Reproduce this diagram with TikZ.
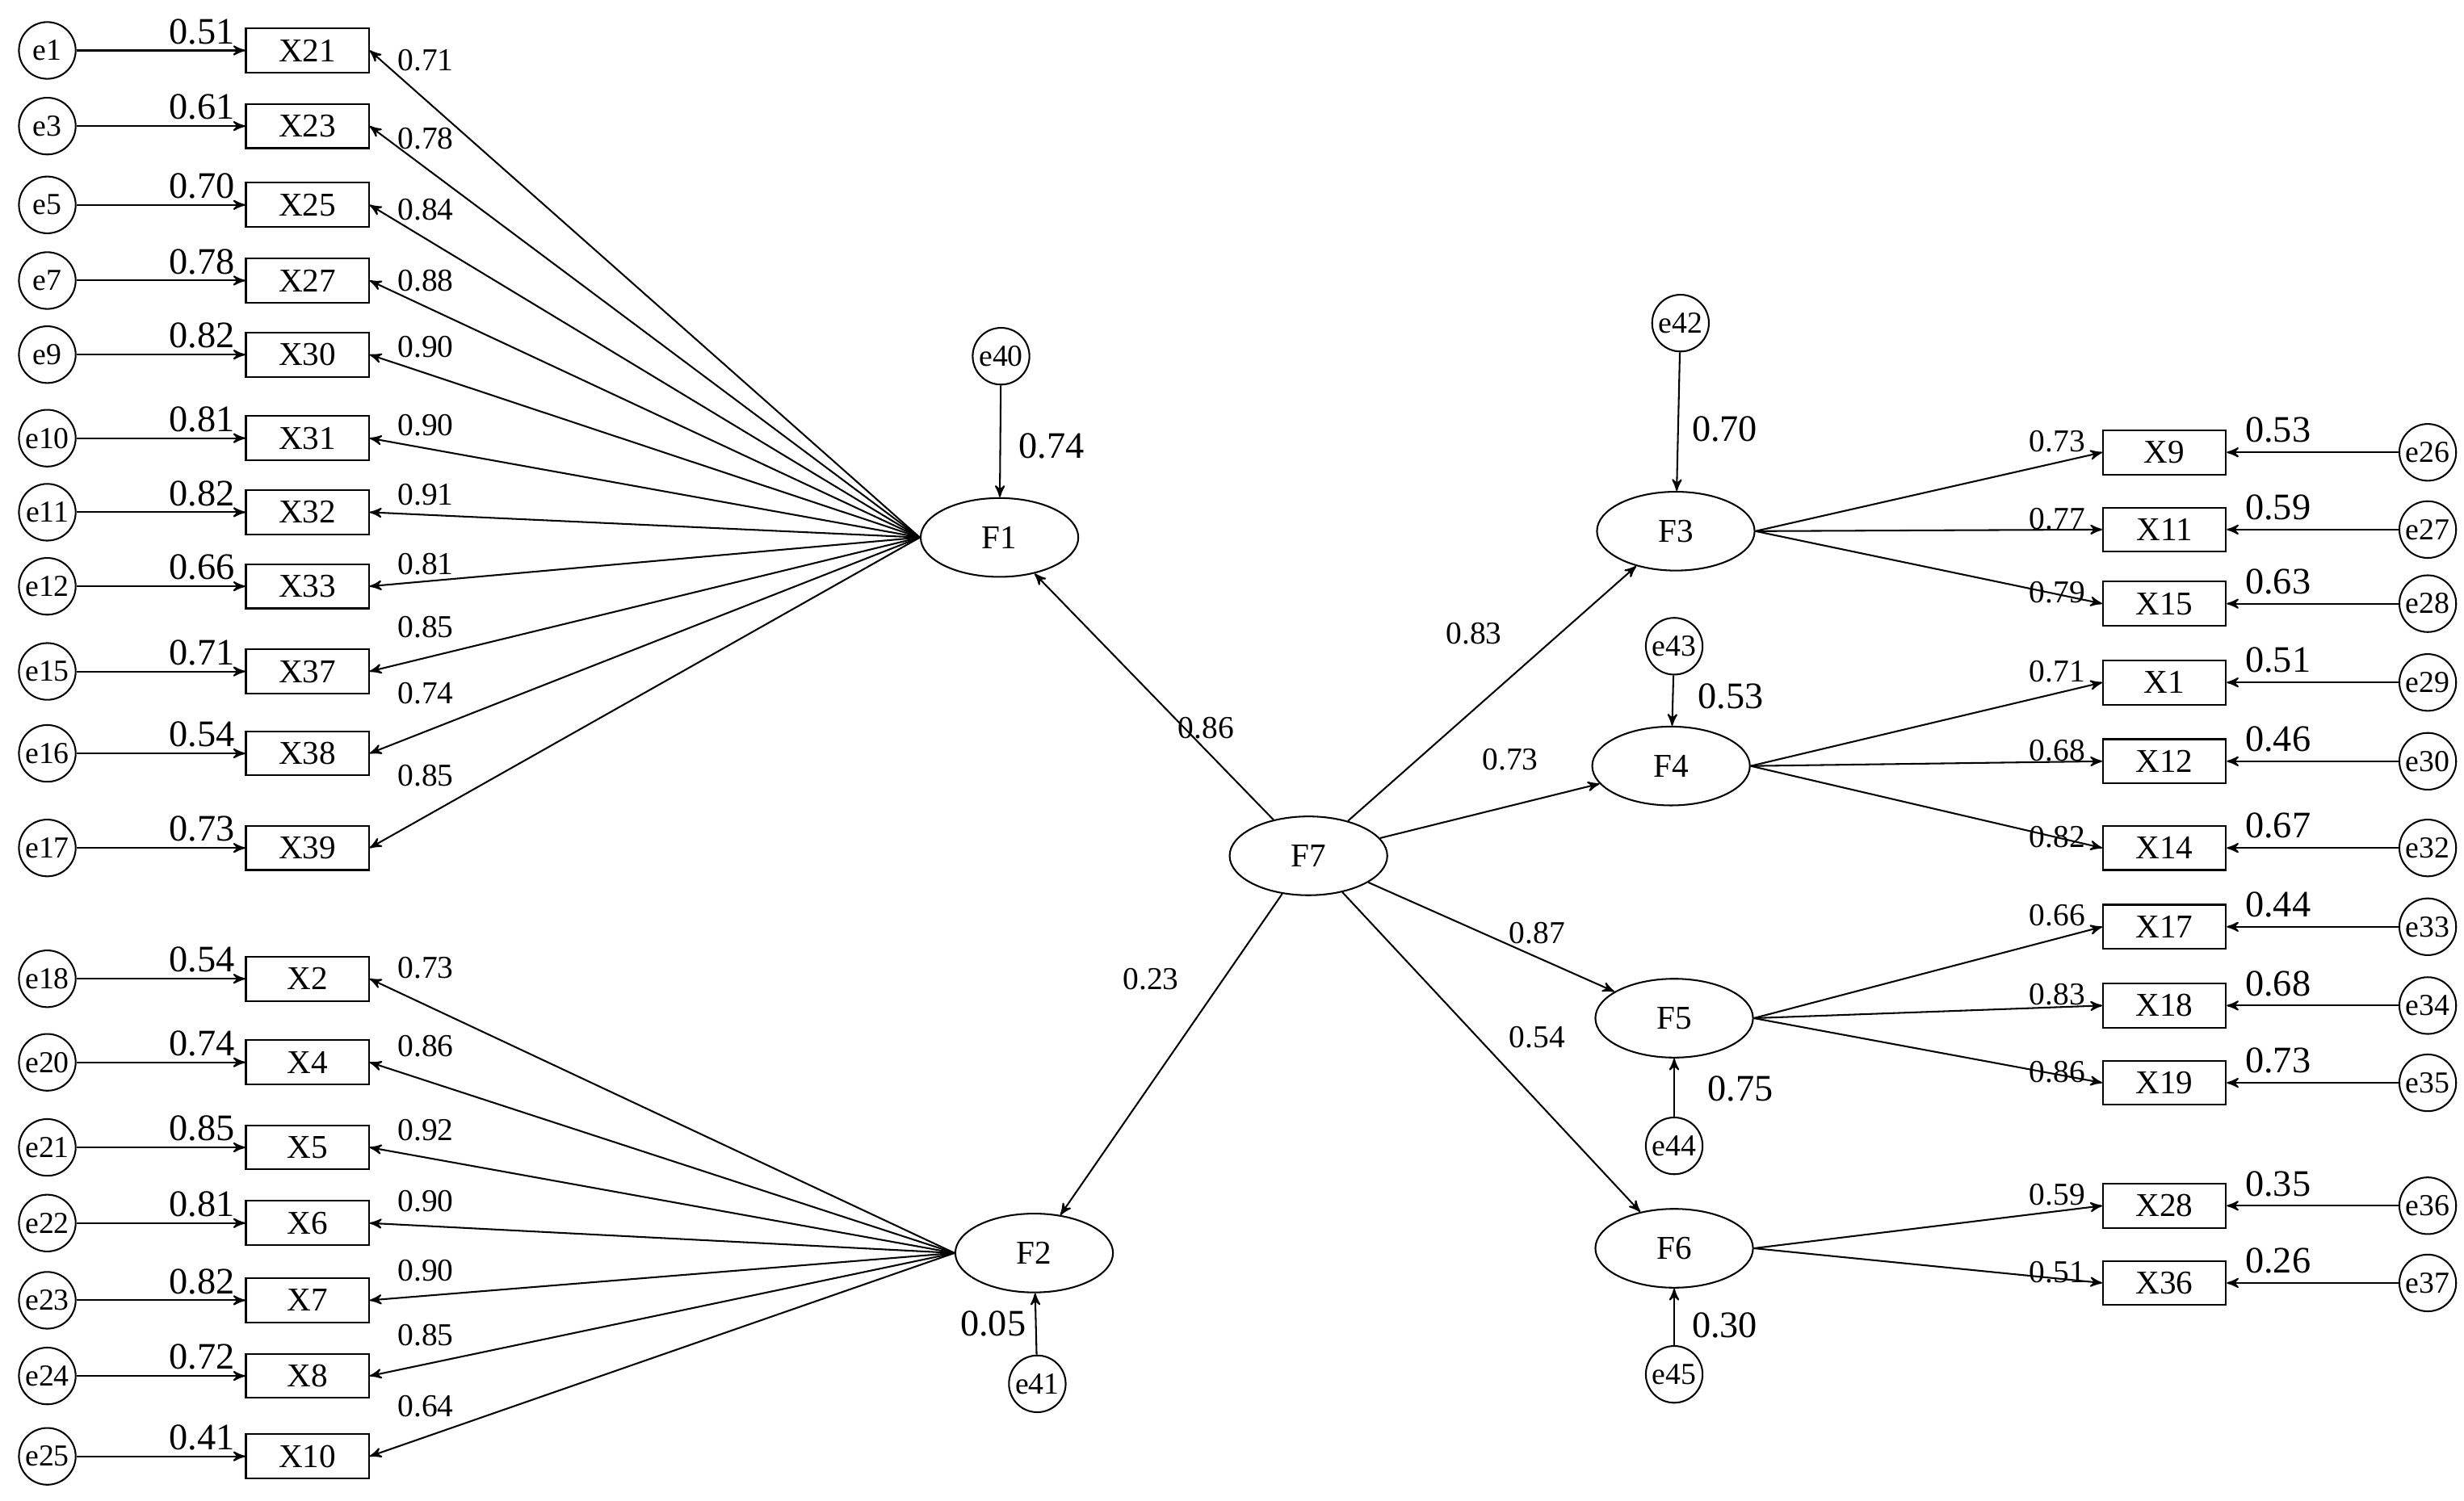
\documentclass[tikz,border=0pt]{standalone}
\usepackage{fontspec}
\setmainfont{Liberation Serif}
\usetikzlibrary{arrows,shapes.geometric}

\begin{document}
\begin{tikzpicture}[x=0.2mm,y=-0.2mm,>=stealth',semithick]
  \tikzstyle{err}=[circle,draw,minimum size=7.2mm,inner sep=0pt,font=\fontsize{11}{11}\selectfont]
  \tikzstyle{obs}=[rectangle,draw,minimum width=15.6mm,minimum height=5.6mm,inner sep=0pt,font=\fontsize{12}{12}\selectfont]
  \tikzstyle{lat}=[ellipse,draw,minimum width=20mm,minimum height=10mm,inner sep=0pt,font=\fontsize{12}{12}\selectfont]
  \tikzstyle{wt}=[font=\fontsize{13.5}{13.5}\selectfont]
  \tikzstyle{ld}=[font=\fontsize{11.5}{11.5}\selectfont]
  \useasboundingbox (0,0) rectangle (1563,952);

  % latent factors
  \node[lat] (F1) at (634,341) {F1};
  \node[lat] (F2) at (656,795) {F2};
  \node[lat] (F3) at (1063,337) {F3};
  \node[lat] (F4) at (1060,486) {F4};
  \node[lat] (F5) at (1062,646) {F5};
  \node[lat] (F6) at (1062,792) {F6};
  \node[lat] (F7) at (830,543) {F7};

  % disturbances
  \node[err] (e40) at (635,226) {e40};
  \node[err] (e41) at (658,878) {e41};
  \node[err] (e42) at (1066,205) {e42};
  \node[err] (e43) at (1062,410) {e43};
  \node[err] (e44) at (1062,727) {e44};
  \node[err] (e45) at (1062,872) {e45};
  \draw[->] (e40) -- (F1);
  \draw[->] (e41) -- (F2);
  \draw[->] (e42) -- (F3);
  \draw[->] (e43) -- (F4);
  \draw[->] (e44) -- (F5);
  \draw[->] (e45) -- (F6);
  \node[wt] at (667,283) {0.74};
  \node[wt] at (630,840) {0.05};
  \node[wt] at (1094,272) {0.70};
  \node[wt] at (1098,442) {0.53};
  \node[wt] at (1104,691) {0.75};
  \node[wt] at (1094,841) {0.30};

  % structural paths
  \draw[->] (F7) -- (F1); \node[ld] at (765,462) {0.86};
  \draw[->] (F7) -- (F2); \node[ld] at (730,621) {0.23};
  \draw[->] (F7) -- (F3); \node[ld] at (935,402) {0.83};
  \draw[->] (F7) -- (F4); \node[ld] at (958,482) {0.73};
  \draw[->] (F7) -- (F5); \node[ld] at (975,592) {0.87};
  \draw[->] (F7) -- (F6); \node[ld] at (975,658) {0.54};

  % left indicators
  \foreach \e/\x/\y/\w/\l/\ly/\f in {
      e1/X21/32/0.51/0.71/38/F1, e3/X23/80/0.61/0.78/88/F1,
      e5/X25/130/0.70/0.84/133/F1, e7/X27/178/0.78/0.88/178/F1,
      e9/X30/225/0.82/0.90/220/F1, e10/X31/278/0.81/0.90/270/F1,
      e11/X32/325/0.82/0.91/314/F1, e12/X33/372/0.66/0.81/358/F1,
      e15/X37/426/0.71/0.85/398/F1, e16/X38/478/0.54/0.74/440/F1,
      e17/X39/538/0.73/0.85/492/F1,
      e18/X2/621/0.54/0.73/614/F2, e20/X4/674/0.74/0.86/664/F2,
      e21/X5/728/0.85/0.92/717/F2, e22/X6/776/0.81/0.90/762/F2,
      e23/X7/825/0.82/0.90/806/F2, e24/X8/873/0.72/0.85/847/F2,
      e25/X10/924/0.41/0.64/892/F2}{
    \node[err] (\e) at (30,\y) {\e};
    \node[obs] (\x) at (195,\y) {\x};
    \draw[->] (\e) -- (\x);
    \draw[->] (\f.west) -- (\x.east);
    \node[wt] at (128,\y-12) {\w};
    \node[ld] at (270,\ly) {\l};
  }

  % right indicators
  \foreach \e/\x/\y/\w/\l/\f in {
      e26/X9/287/0.53/0.73/F3, e27/X11/336/0.59/0.77/F3,
      e28/X15/383/0.63/0.79/F3, e29/X1/433/0.51/0.71/F4,
      e30/X12/483/0.46/0.68/F4, e32/X14/538/0.67/0.82/F4,
      e33/X17/588/0.44/0.66/F5, e34/X18/638/0.68/0.83/F5,
      e35/X19/687/0.73/0.86/F5, e36/X28/765/0.35/0.59/F6,
      e37/X36/814/0.26/0.51/F6}{
    \node[err] (\e) at (1540,\y) {\e};
    \node[obs] (\x) at (1373,\y) {\x};
    \draw[->] (\e) -- (\x);
    \draw[->] (\f.east) -- (\x.west);
    \node[wt] at (1445,\y-14) {\w};
    \node[ld] at (1305,\y-7) {\l};
  }
\end{tikzpicture}
\end{document}
